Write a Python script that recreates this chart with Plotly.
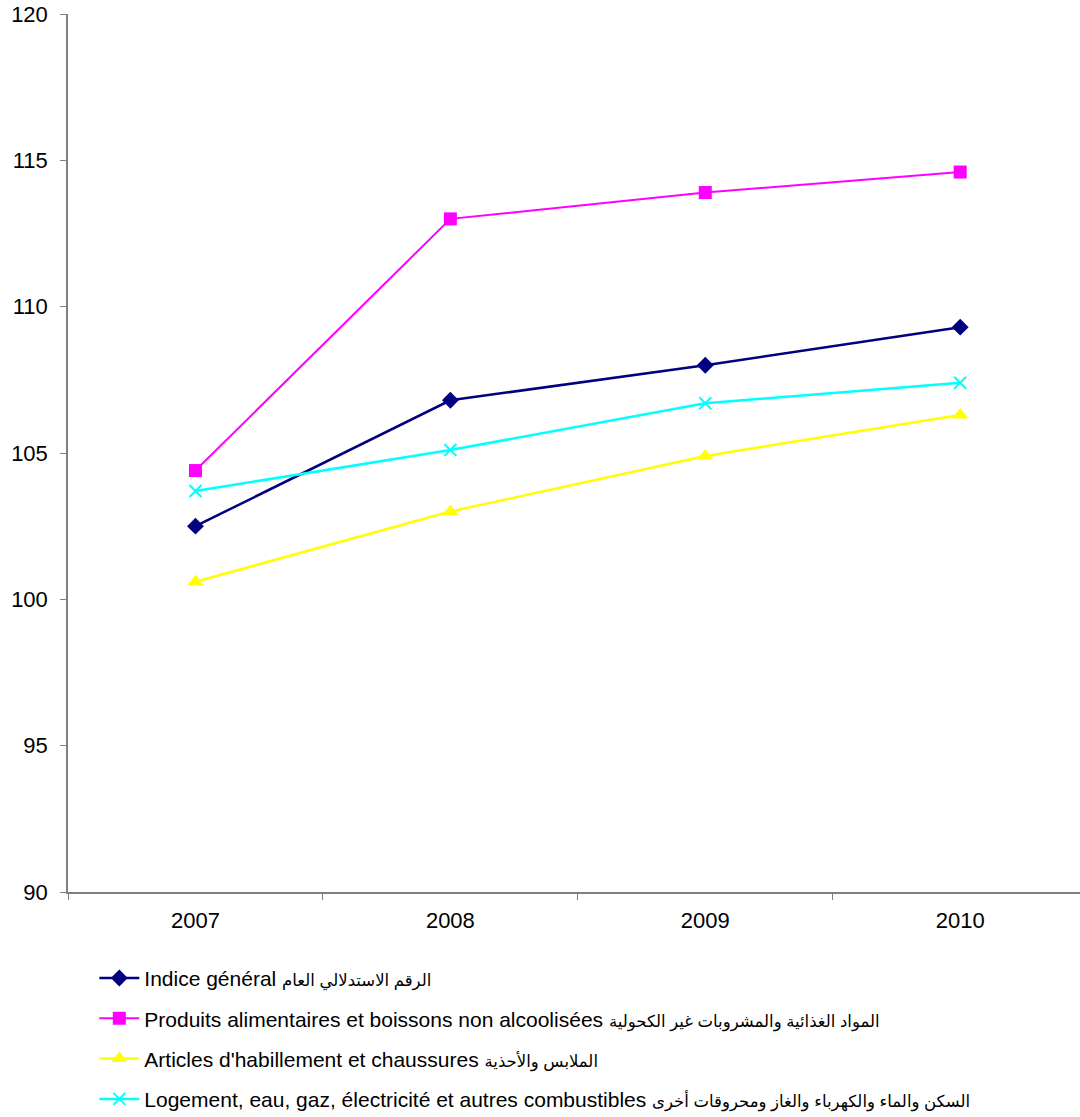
import plotly.graph_objects as go

years = ["2007", "2008", "2009", "2010"]
indice_general = [102.5, 106.8, 108.0, 109.3]
produits_alimentaires = [104.4, 113.0, 113.9, 114.6]
articles_habillement = [100.6, 103.0, 104.9, 106.3]
logement = [103.7, 105.1, 106.7, 107.4]

fr_names = [
    "Indice général",
    "Produits alimentaires et boissons non alcoolisées",
    "Articles d'habillement et chaussures",
    "Logement, eau, gaz, électricité et autres combustibles",
]
ar_names = [
    "الرقم الاستدلالي العام",
    "المواد الغذائية والمشروبات غير الكحولية",
    "الملابس والأحذية",
    "السكن والماء والكهرباء والغاز ومحروقات أخرى",
]
series = [indice_general, produits_alimentaires, articles_habillement, logement]
colors = ["#000080", "#FF00FF", "#FFFF00", "#00FFFF"]
symbols = ["diamond", "square", "triangle-up", "x-thin-open"]
sizes = [13, 13, 14, 12]
widths = [2.5, 2, 2.5, 2.5]

fig = go.Figure()
for i in range(4):
    label = f"{fr_names[i]} <span style='font-size:16.5px'>{ar_names[i]}</span>"
    fig.add_trace(go.Scatter(
        x=years, y=series[i], name=label, mode="lines+markers",
        line=dict(color=colors[i], width=widths[i]),
        marker=dict(symbol=symbols[i], size=sizes[i], color=colors[i],
                    line=dict(color=colors[i], width=2 if i == 3 else 0)),
        legendgroup=f"g{i}",
    ))

fig.update_layout(
    width=1080, height=1117,
    margin=dict(l=68, r=0, t=14, b=225, autoexpand=False),
    paper_bgcolor="white", plot_bgcolor="white",
    font=dict(family="Liberation Sans, Arial, DejaVu Sans", size=21, color="black"),
    showlegend=True,
    legend=dict(orientation="v", x=0.026, xanchor="left", y=-0.075, yanchor="top",
                tracegroupgap=10, font=dict(size=21), itemwidth=40),
    xaxis=dict(type="category", range=[-0.5, 3.47], showline=True, linecolor="#808080",
               linewidth=1.5, ticks="outside", tickson="boundaries", ticklen=6,
               tickcolor="#808080", showgrid=False, zeroline=False,
               tickfont=dict(size=22), ticklabelstandoff=8),
    yaxis=dict(range=[90, 120], dtick=5, showline=True, linecolor="#808080",
               linewidth=1.5, ticks="outside", ticklen=6, tickcolor="#808080",
               showgrid=False, zeroline=False, tickfont=dict(size=22),
               ticklabelstandoff=8),
)

fig.write_html("out.html", config={"displayModeBar": False},
               post_script="document.body.style.margin='0';document.body.style.overflow='hidden';")
